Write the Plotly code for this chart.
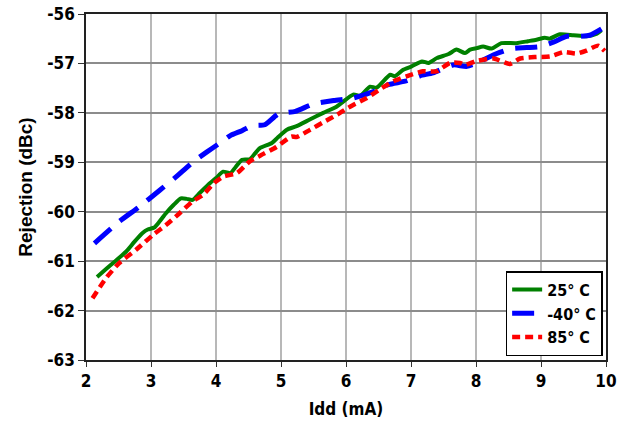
import plotly.graph_objects as go

# 25 °C series
x_25 = [2.17, 2.30, 2.45, 2.615, 2.75, 2.87, 2.95, 3.05, 3.13, 3.23, 3.35, 3.46, 3.55, 3.64, 3.75,
        3.91, 4.00, 4.11, 4.22, 4.30, 4.40, 4.52, 4.60, 4.68, 4.86, 4.95, 5.09, 5.24, 5.45, 5.65,
        5.86, 6.11, 6.22, 6.37, 6.47, 6.68, 6.75, 6.88, 7.01, 7.17, 7.27, 7.40, 7.58, 7.70, 7.83,
        7.91, 8.01, 8.11, 8.24, 8.39, 8.62, 8.80, 8.93, 9.06, 9.13, 9.29, 9.50, 9.70, 9.86, 9.93]
y_25 = [-61.32, -61.17, -61.00, -60.81, -60.60, -60.43, -60.36, -60.32, -60.20, -60.03, -59.86, -59.73,
        -59.74, -59.76, -59.62, -59.42, -59.32, -59.19, -59.22, -59.10, -58.95, -58.94, -58.82, -58.71,
        -58.61, -58.50, -58.34, -58.27, -58.13, -58.00, -57.87, -57.63, -57.65, -57.47, -57.49, -57.23,
        -57.26, -57.13, -57.06, -56.96, -56.99, -56.89, -56.81, -56.72, -56.79, -56.72, -56.69, -56.66,
        -56.70, -56.59, -56.59, -56.55, -56.52, -56.48, -56.50, -56.41, -56.43, -56.45, -56.40, -56.33]

# -40 °C series
x_m40 = [2.13, 2.51, 2.82, 3.13, 3.38, 3.64, 3.85, 4.06, 4.22, 4.40, 4.55, 4.75, 4.96, 5.22, 5.50,
         5.81, 6.11, 6.42, 6.65, 6.91, 7.14, 7.34, 7.65, 7.86, 8.09, 8.32, 8.55, 8.78, 8.98, 9.19,
         9.40, 9.60, 9.75, 9.93]
y_m40 = [-60.64, -60.20, -59.90, -59.57, -59.30, -59.00, -58.80, -58.61, -58.46, -58.36, -58.26, -58.24,
         -58.02, -57.97, -57.82, -57.75, -57.70, -57.57, -57.43, -57.36, -57.25, -57.19, -57.03, -57.06,
         -56.94, -56.80, -56.70, -56.68, -56.66, -56.57, -56.45, -56.45, -56.43, -56.30]

# 85 °C series
x_85 = [2.10, 2.31, 2.51, 2.77, 3.03, 3.23, 3.44, 3.64, 3.80, 3.97, 4.11, 4.32, 4.52, 4.73, 4.93,
        5.16, 5.24, 5.45, 5.65, 5.86, 6.03, 6.11, 6.32, 6.55, 6.73, 6.93, 7.18, 7.39, 7.60, 7.75,
        7.83, 8.01, 8.27, 8.52, 8.68, 8.93, 9.14, 9.35, 9.55, 9.70, 9.88, 9.98]
y_85 = [-61.75, -61.34, -61.04, -60.77, -60.47, -60.27, -60.03, -59.79, -59.66, -59.42, -59.29, -59.22,
        -58.98, -58.83, -58.69, -58.48, -58.49, -58.34, -58.19, -58.04, -57.90, -57.84, -57.70, -57.50,
        -57.36, -57.26, -57.16, -57.16, -56.99, -56.99, -57.03, -56.95, -56.90, -57.01, -56.90, -56.87,
        -56.86, -56.77, -56.80, -56.74, -56.64, -56.75]

x_ticks = [2, 3, 4, 5, 6, 7, 8, 9, 10]
y_ticks = [-63, -62, -61, -60, -59, -58, -57, -56]

NARROW = "DejaVu Sans Condensed, Liberation Sans, sans-serif"
WIDE = "Liberation Sans, Arial, sans-serif"

fig = go.Figure()
fig.add_trace(go.Scatter(x=x_25, y=y_25, mode="lines", name="25° C",
                         line=dict(color="#008000", width=4, shape="spline", smoothing=0.6)))
fig.add_trace(go.Scatter(x=x_m40, y=y_m40, mode="lines", name="-40° C",
                         line=dict(color="#0000ff", width=5, dash="22px,12px", shape="spline", smoothing=0.6)))
fig.add_trace(go.Scatter(x=x_85, y=y_85, mode="lines", name="85° C",
                         line=dict(color="#ff0000", width=4.5, dash="8px,5px", shape="spline", smoothing=0.6)))

fig.update_layout(
    width=629, height=425,
    margin=dict(l=86, r=23, t=14, b=65, autoexpand=False),
    paper_bgcolor="white", plot_bgcolor="white",
    font=dict(family=NARROW, size=17, color="black", weight="bold"),
    showlegend=True,
    legend=dict(x=0.807, y=0.257, xanchor="left", yanchor="top",
                bgcolor="white", bordercolor="black", borderwidth=1.5,
                font=dict(family=NARROW, size=16, weight="bold"),
                tracegroupgap=0, itemwidth=30),
)
fig.update_xaxes(range=[2, 10], tickmode="array", tickvals=x_ticks, ticktext=[str(v) for v in x_ticks],
                 showgrid=True, gridcolor="#b8b8b8", gridwidth=2, automargin=False,
                 showline=True, linecolor="#222222", linewidth=1.5, mirror=True,
                 ticks="outside", ticklen=5, tickcolor="#333333",
                 title=dict(text="Idd (mA)", font=dict(family=NARROW, size=17, weight="bold"), standoff=13),
                 zeroline=False)
fig.update_yaxes(range=[-63, -56], tickmode="array", tickvals=y_ticks, ticktext=[str(v) for v in y_ticks],
                 showgrid=True, gridcolor="#8c8c8c", gridwidth=1.5, automargin=False,
                 showline=True, linecolor="#222222", linewidth=1.5, mirror=True,
                 ticks="outside", ticklen=6, tickcolor="#333333",
                 title=dict(text="Rejection (dBc)", font=dict(family=WIDE, size=19, weight="bold"), standoff=10),
                 zeroline=False)

fig.write_html("out.html", config={"displayModeBar": False},
               post_script="document.body.style.margin='0px';")
